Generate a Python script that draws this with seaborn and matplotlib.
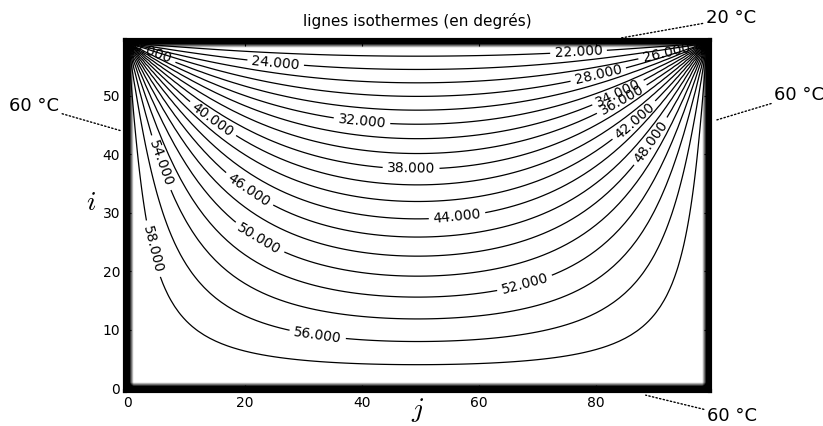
import matplotlib
matplotlib.use("Agg")
import matplotlib.pyplot as plt
import numpy as np
import seaborn as sns

# grid size (rows i, columns j) and boundary temperatures
n_rows, n_cols = 60, 100
t_top = 20.0
t_bottom = 60.0
t_left = 60.0
t_right = 60.0

levels = [22, 24, 26, 28, 30, 32, 34, 36, 38,
          40, 42, 44, 46, 48, 50, 52, 54, 56, 58]

# where each level's label sits (j, i), same order as levels
label_spots = [
    (77.0, 57.9), (25.2, 55.0), (92.1, 56.9), (80.3, 54.0), (3.4, 57.0),
    (40.0, 45.6), (84.0, 50.0), (85.0, 48.3), (48.4, 37.4), (14.5, 46.0),
    (87.1, 45.1), (56.3, 29.0), (20.7, 33.9), (89.9, 41.8), (22.4, 25.5),
    (68.2, 16.4), (5.9, 38.6), (32.4, 8.9), (4.2, 23.8),
]

x_ticks = [0, 20, 40, 60, 80]
y_ticks = [0, 10, 20, 30, 40, 50]

# side labels: (text, point on the edge, text position)
side_labels = [
    ("20 °C", (84, 59.8), (98.8, 63.2), "left"),
    ("60 °C", (-1.2, 44.0), (-11.8, 48.3), "right"),
    ("60 °C", (100.5, 45.8), (110.5, 50.1), "left"),
    ("60 °C", (88.5, -1.2), (99.0, -4.8), "left"),
]

# temperature field: relax the Laplace equation with fixed edges
T = np.full((n_rows, n_cols), 40.0)
T[0, :] = t_bottom
T[:, 0] = t_left
T[:, -1] = t_right
T[-1, :] = t_top
for _ in range(20000):
    T[1:-1, 1:-1] = 0.25 * (T[:-2, 1:-1] + T[2:, 1:-1] + T[1:-1, :-2] + T[1:-1, 2:])

# frame image: dark boundary cells
edge = np.zeros((n_rows, n_cols))
edge[0, :] = edge[-1, :] = edge[:, 0] = edge[:, -1] = 1.0

sns.set_style("white")
plt.rcParams["font.family"] = ["DejaVu Sans"]
plt.rcParams["mathtext.fontset"] = "cm"
plt.rcParams["text.color"] = "k"
plt.rcParams["axes.labelcolor"] = "k"

fig = plt.figure(figsize=(8.23, 4.26), dpi=100)
ax = fig.add_axes([0.1434, 0.082, 0.7278, 0.824])

ax.imshow(edge, cmap="gray_r", origin="lower", interpolation="bilinear",
          vmin=0, vmax=0.7)
for lev, spot in zip(levels, label_spots):
    cs = ax.contour(T, levels=[lev], colors="k", linewidths=0.9)
    ax.clabel(cs, fmt="%.3f", fontsize=10, inline=True, manual=[spot])

ax.set_xlim(-0.5, n_cols - 0.5)
ax.set_ylim(-0.5, n_rows - 0.5)
ax.set_xticks(x_ticks)
ax.set_yticks(y_ticks)
ax.tick_params(direction="in", length=4, labelsize=10, colors="k",
               left=True, bottom=True, top=True, right=True)
for sp in ax.spines.values():
    sp.set_color("k")
    sp.set_linewidth(3)

ax.set_title("lignes isothermes (en degrés)", fontsize=11, pad=10, color="k")
ax.set_xlabel("$j$", fontsize=20, labelpad=-10)
ax.set_ylabel("$i$", fontsize=20, rotation=0, labelpad=8)

for txt, xy, xytext, ha in side_labels:
    ax.annotate(txt, xy=xy, xytext=xytext, ha=ha, va="center", fontsize=13,
                color="k", annotation_clip=False,
                arrowprops=dict(arrowstyle="-", linestyle=":", color="k",
                                lw=1, shrinkA=0, shrinkB=0))

fig.savefig("out.png", dpi=100)
